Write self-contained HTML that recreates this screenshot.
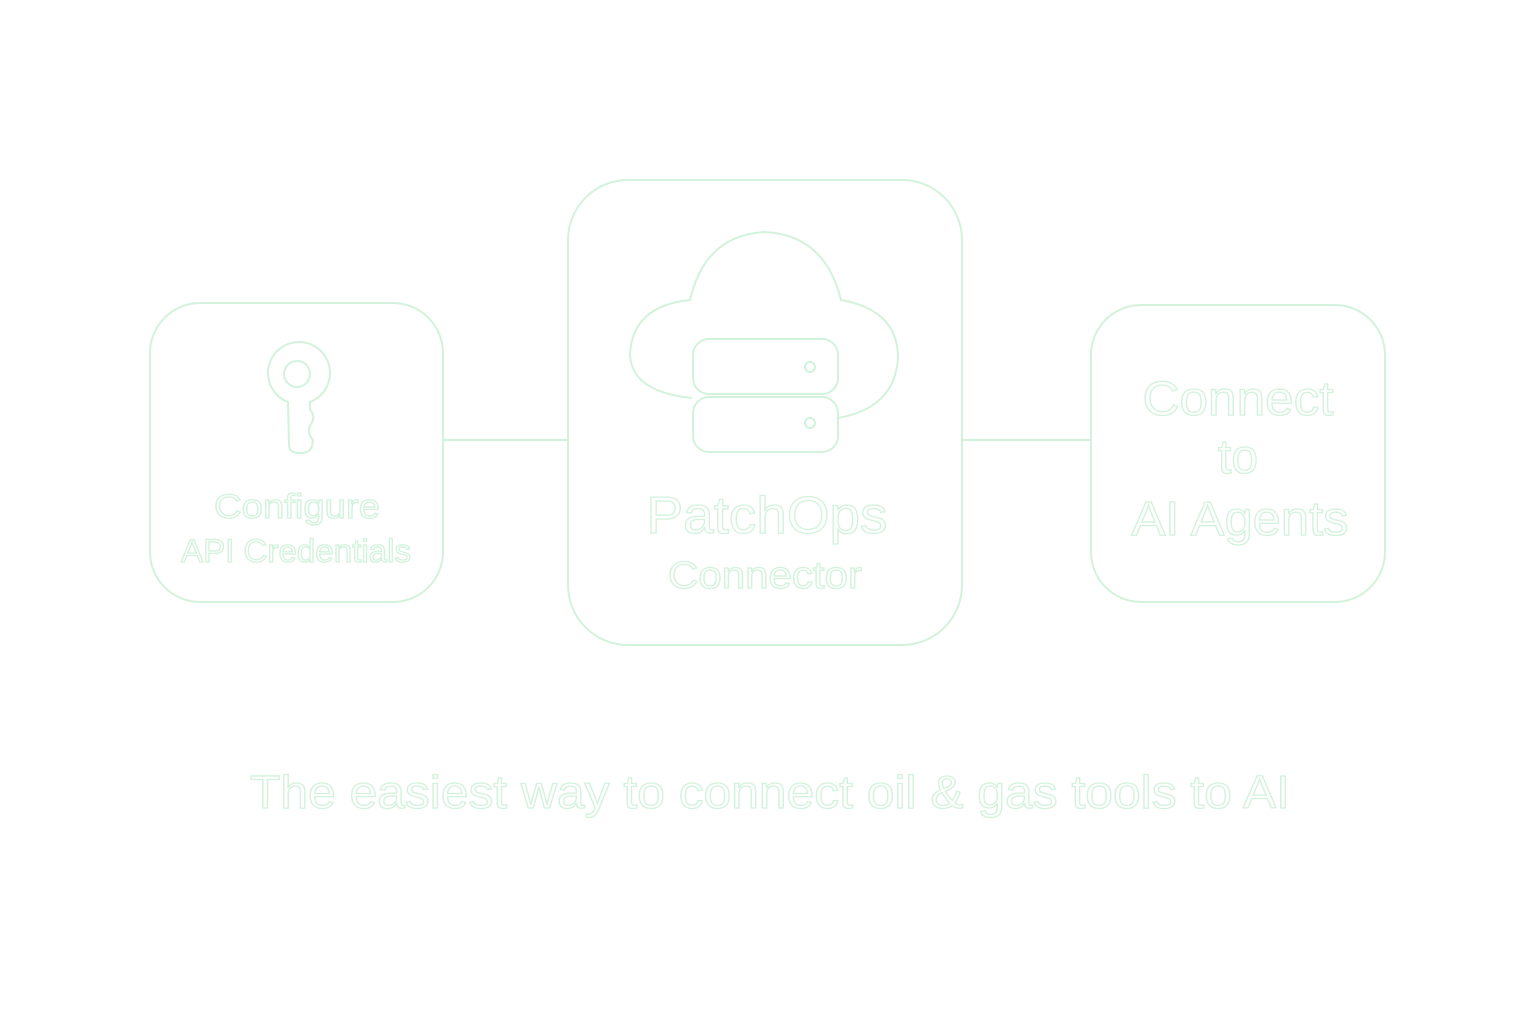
<!DOCTYPE html>
<html><head><meta charset="utf-8"><style>
html,body{margin:0;padding:0;background:#fff;}
svg{display:block}
text{font-family:"Liberation Sans",sans-serif;fill:#fff;stroke:#d3f2dc;stroke-width:1.3;text-anchor:middle}
.s{fill:none;stroke:#d3f2dc;stroke-width:2}
</style></head><body>
<svg width="1536" height="1024" viewBox="0 0 1536 1024" xmlns="http://www.w3.org/2000/svg">
<line class="s" x1="443" y1="440" x2="568" y2="440"/>
<line class="s" x1="962" y1="440" x2="1091" y2="440"/>
<rect class="s" x="150" y="303" width="293" height="299" rx="50"/>
<rect class="s" x="568" y="180" width="394" height="465" rx="60"/>
<rect class="s" x="1091" y="305" width="294" height="297" rx="50"/>
<!-- key -->
<path class="s" d="M288 402 A31 31 0 1 1 310 402 L310 410 Q316 416 311 424 Q306 432 313 440 L312 446 Q310 453 300 453 Q289 453 289 445 Z"/>
<circle class="s" cx="297" cy="374" r="13"/>
<!-- cloud -->
<path class="s" d="M692 398 Q632 392 630 355 Q632 306 690 300 Q705 235 765 232 Q825 235 841 300 Q898 310 898 358 Q895 408 838 418"/>
<rect class="s" x="693" y="339" width="145" height="55" rx="16" fill="#fff"/>
<rect class="s" x="693" y="397" width="145" height="55" rx="16" fill="#fff"/>
<circle class="s" cx="810" cy="367" r="5"/>
<circle class="s" cx="810" cy="423" r="5"/>
<text x="297" y="518" font-size="34" textLength="166" lengthAdjust="spacingAndGlyphs">Configure</text>
<text x="296" y="562" font-size="32" textLength="230" lengthAdjust="spacingAndGlyphs">API Credentials</text>
<text x="767" y="533" font-size="52" textLength="241" lengthAdjust="spacingAndGlyphs">PatchOps</text>
<text x="765" y="588" font-size="38" textLength="194" lengthAdjust="spacingAndGlyphs">Connector</text>
<text x="1238" y="415" font-size="48" textLength="191" lengthAdjust="spacingAndGlyphs">Connect</text>
<text x="1238" y="473" font-size="48">to</text>
<text x="1240" y="535" font-size="48" textLength="217" lengthAdjust="spacingAndGlyphs">AI Agents</text>
<text x="770" y="808" font-size="46" textLength="1040" lengthAdjust="spacingAndGlyphs">The easiest way to connect oil &amp; gas tools to AI</text>
</svg>
</body></html>
